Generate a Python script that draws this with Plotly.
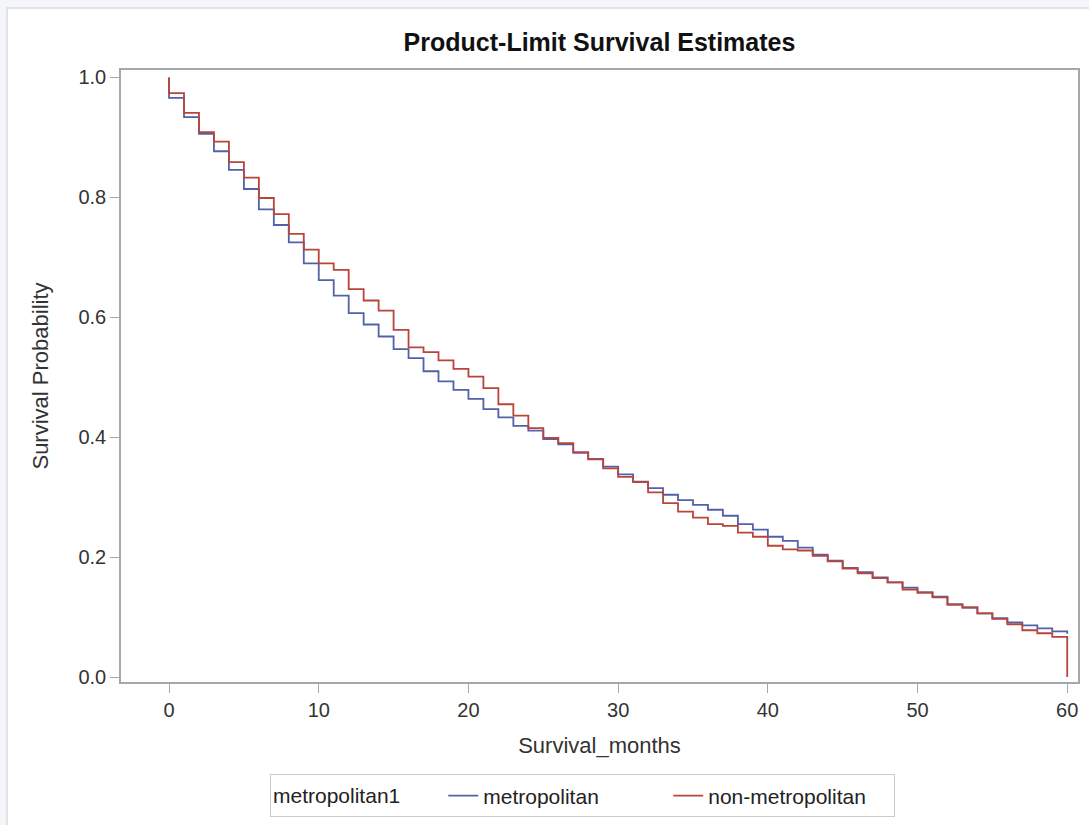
import plotly.graph_objects as go

# Step start months (each value holds on [m, m+1))
months = list(range(60))
end_month = 60

metro_surv = [0.966, 0.934, 0.906, 0.877, 0.846, 0.814, 0.780, 0.754, 0.725, 0.690,
              0.662, 0.636, 0.607, 0.588, 0.568, 0.547, 0.532, 0.510, 0.493, 0.479,
              0.464, 0.447, 0.433, 0.419, 0.411, 0.397, 0.388, 0.374, 0.364, 0.351,
              0.338, 0.326, 0.315, 0.304, 0.295, 0.287, 0.279, 0.269, 0.255, 0.246,
              0.234, 0.227, 0.216, 0.204, 0.194, 0.182, 0.175, 0.166, 0.158, 0.149,
              0.141, 0.134, 0.121, 0.116, 0.106, 0.098, 0.091, 0.086, 0.081, 0.076]
metro_end = 0.072

nonmetro_surv = [0.974, 0.941, 0.909, 0.893, 0.859, 0.833, 0.799, 0.772, 0.739, 0.713,
                 0.690, 0.679, 0.647, 0.628, 0.611, 0.579, 0.550, 0.542, 0.528, 0.514,
                 0.501, 0.482, 0.455, 0.436, 0.415, 0.399, 0.390, 0.375, 0.363, 0.348,
                 0.334, 0.325, 0.308, 0.290, 0.276, 0.266, 0.255, 0.252, 0.241, 0.234,
                 0.219, 0.213, 0.211, 0.202, 0.193, 0.181, 0.173, 0.165, 0.158, 0.146,
                 0.141, 0.133, 0.121, 0.116, 0.106, 0.097, 0.088, 0.078, 0.073, 0.067]
nonmetro_end = 0.0

x_ticks = [0, 10, 20, 30, 40, 50, 60]
y_ticks = [0.0, 0.2, 0.4, 0.6, 0.8, 1.0]
y_ticklabels = ["0.0", "0.2", "0.4", "0.6", "0.8", "1.0"]

BLUE = "#5262a8"
RED = "#b9453a"
FONT = "Liberation Sans, Arial, sans-serif"
AXIS_GRAY = "#a3a8ae"


def km_xy(vals, end_val):
    xs = [0] + months + [end_month]
    ys = [1.0] + vals + [end_val]
    return xs, ys


fig = go.Figure()
mx, my = km_xy(metro_surv, metro_end)
nx, ny = km_xy(nonmetro_surv, nonmetro_end)
fig.add_trace(go.Scatter(x=mx, y=my, mode="lines", line=dict(color=BLUE, width=1.8, shape="hv"),
                         name="metropolitan"))
fig.add_trace(go.Scatter(x=nx, y=ny, mode="lines", line=dict(color=RED, width=1.8, shape="hv"),
                         name="non-metropolitan"))

# outer panel (white card with light border)
fig.add_shape(type="rect", xref="paper", yref="paper",
              x0=-0.1191, x1=1.03, y0=-0.26, y1=1.1013,
              fillcolor="white", line=dict(color="#d9dce2", width=1.5), layer="below")

fig.update_layout(
    width=1089, height=825,
    margin=dict(l=121, r=11, t=70, b=143, autoexpand=False),
    paper_bgcolor="#f5f6fa",
    plot_bgcolor="white",
    font=dict(family=FONT, color="#333333"),
    title=dict(text="<b>Product-Limit Survival Estimates</b>", x=0.5, xref="paper",
               yref="container", y=0.949, yanchor="middle",
               font=dict(size=25, color="#111111", family=FONT)),
    showlegend=True,
    legend=dict(orientation="h", x=0.1557, xanchor="left", y=-0.151, yanchor="top",
                bordercolor="#c8cbd0", borderwidth=1, bgcolor="white",
                title=dict(text="metropolitan1      ", font=dict(size=21, color="#222222")),
                font=dict(size=21, color="#222222"),
                entrywidth=180, entrywidthmode="pixels"),
)

fig.update_xaxes(range=[-3.21, 60.72], tickvals=x_ticks, ticks="outside", ticklen=9,
                 tickcolor=AXIS_GRAY, showline=True, linecolor=AXIS_GRAY, linewidth=1.5,
                 mirror=True, showgrid=False, zeroline=False,
                 tickfont=dict(size=20, color="#333333"),
                 title=dict(text="Survival_months", font=dict(size=22, color="#333333"), standoff=18))
fig.update_yaxes(range=[-0.0083, 1.0125], tickvals=y_ticks, ticktext=y_ticklabels,
                 ticks="outside", ticklen=9, tickcolor=AXIS_GRAY, showline=True,
                 linecolor=AXIS_GRAY, linewidth=1.5, mirror=True, showgrid=False, zeroline=False,
                 tickfont=dict(size=20, color="#333333"),
                 title=dict(text="Survival Probability", font=dict(size=22, color="#333333"), standoff=24))

fig.write_html("out.html", config={"displayModeBar": False},
               post_script="document.body.style.margin='0';document.body.style.overflow='hidden';")
